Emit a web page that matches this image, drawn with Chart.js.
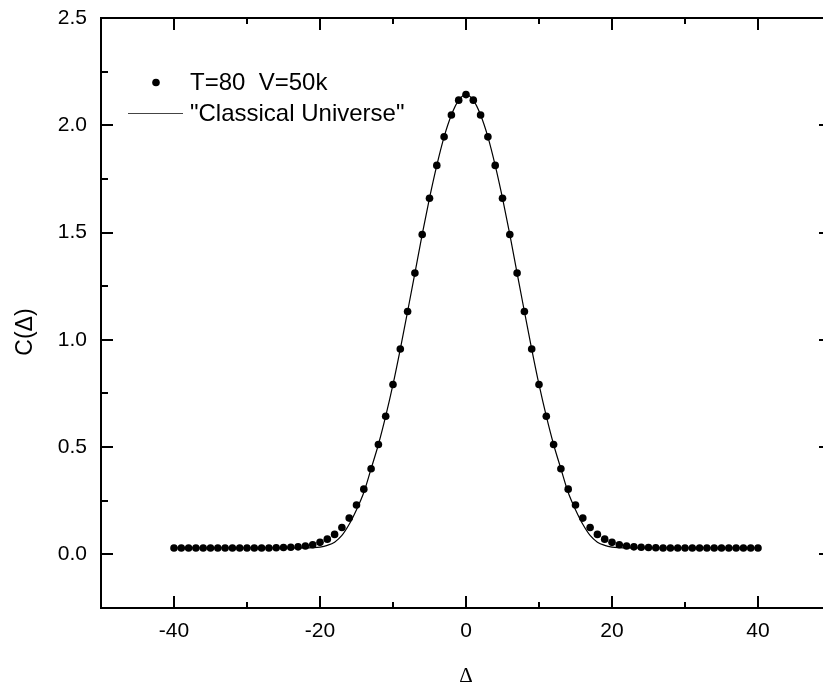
<!DOCTYPE html>
<html>
<head>
<meta charset="utf-8">
<script src="https://cdn.jsdelivr.net/npm/chart.js@4/dist/chart.umd.min.js"></script>
<style>
html,body{margin:0;padding:0;overflow:hidden;background:#fff;width:823px;height:685px;}
#wrap{position:absolute;left:0;top:0;width:845px;height:685px;}
</style>
</head>
<body>
<div id="wrap"><canvas id="c" width="845" height="685"></canvas></div>
<script>
// ---- data ----
const deltas = [-40,-39,-38,-37,-36,-35,-34,-33,-32,-31,-30,-29,-28,-27,-26,-25,-24,-23,-22,-21,
  -20,-19,-18,-17,-16,-15,-14,-13,-12,-11,-10,-9,-8,-7,-6,-5,-4,-3,-2,-1,0,
  1,2,3,4,5,6,7,8,9,10,11,12,13,14,15,16,17,18,19,20,
  21,22,23,24,25,26,27,28,29,30,31,32,33,34,35,36,37,38,39,40];
const measuredC = [0.030,0.030,0.030,0.030,0.030,0.030,0.030,0.030,0.030,0.030,0.030,0.030,0.030,0.030,0.031,0.032,0.033,0.035,0.039,0.045,
  0.056,0.071,0.093,0.125,0.169,0.230,0.304,0.399,0.512,0.644,0.792,0.957,1.132,1.311,1.491,1.660,1.813,1.946,2.048,2.117,2.143,
  2.117,2.048,1.946,1.813,1.660,1.491,1.311,1.132,0.957,0.792,0.644,0.512,0.399,0.304,0.230,0.169,0.125,0.093,0.071,0.056,
  0.045,0.039,0.035,0.033,0.032,0.031,0.030,0.030,0.030,0.030,0.030,0.030,0.030,0.030,0.030,0.030,0.030,0.030,0.030,0.030];
const classicalC = [0.030,0.030,0.030,0.030,0.030,0.030,0.030,0.030,0.030,0.030,0.030,0.030,0.030,0.030,0.030,0.030,0.030,0.030,0.030,0.031,
  0.034,0.042,0.057,0.088,0.140,0.208,0.288,0.399,0.512,0.644,0.792,0.957,1.132,1.311,1.491,1.660,1.813,1.946,2.048,2.117,2.143,
  2.117,2.048,1.946,1.813,1.660,1.491,1.311,1.132,0.957,0.792,0.644,0.512,0.399,0.288,0.208,0.140,0.088,0.057,0.042,0.034,
  0.031,0.030,0.030,0.030,0.030,0.030,0.030,0.030,0.030,0.030,0.030,0.030,0.030,0.030,0.030,0.030,0.030,0.030,0.030,0.030];
const seriesLabels = ['T=80  V=50k', '"Classical Universe"'];
const xTickValues = [-40,-20,0,20,40];
const xMinorValues = [-50,-30,-10,10,30,50];
const yTickValues = [0,0.5,1.0,1.5,2.0,2.5];
const yMinorValues = [-0.25,0.25,0.75,1.25,1.75,2.25];
const xTitle = 'Δ';
const yTitle = 'C(Δ)';

const SANS = '"Liberation Sans", Arial, sans-serif';

const framePlugin = {
  id: 'frame',
  afterDatasetsDraw(chart) {
    const ctx = chart.ctx;
    const {left, right, top, bottom} = chart.chartArea;
    const xs = chart.scales.x, ys = chart.scales.y;
    ctx.save();
    ctx.strokeStyle = '#000';
    ctx.lineWidth = 2;
    ctx.strokeRect(left, top, right - left, bottom - top);
    ctx.beginPath();
    const tickX = (vals, len) => vals.forEach(v => {
      const p = Math.round(xs.getPixelForValue(v));
      ctx.moveTo(p, bottom); ctx.lineTo(p, bottom - len);
      ctx.moveTo(p, top); ctx.lineTo(p, top + len);
    });
    const tickY = (vals, len) => vals.forEach(v => {
      const p = Math.round(ys.getPixelForValue(v));
      ctx.moveTo(left, p); ctx.lineTo(left + len, p);
      ctx.moveTo(right, p); ctx.lineTo(right - len, p);
    });
    tickX(xTickValues, 12); tickX(xMinorValues, 6);
    tickY(yTickValues, 12); tickY(yMinorValues, 7);
    ctx.stroke();

    // axis titles
    ctx.fillStyle = '#000';
    ctx.textAlign = 'center';
    ctx.textBaseline = 'middle';
    ctx.font = '21px "Liberation Serif", "Times New Roman", serif';
    ctx.fillText(xTitle, (left + right) / 2, 676);
    ctx.save();
    ctx.translate(26, 332);
    ctx.rotate(-Math.PI / 2);
    ctx.font = '23px ' + SANS;
    ctx.fillText(yTitle, 0, 0);
    ctx.restore();

    // legend
    const ds = chart.data.datasets;
    ctx.font = '24px ' + SANS;
    ctx.textAlign = 'left';
    ctx.textBaseline = 'middle';
    ctx.beginPath();
    ctx.arc(156, 82.5, 3.8, 0, Math.PI * 2);
    ctx.fillStyle = '#000';
    ctx.fill();
    ctx.fillText(ds[0].label, 190, 83);
    ctx.beginPath();
    ctx.strokeStyle = '#444';
    ctx.lineWidth = 1;
    ctx.moveTo(128, 113.5); ctx.lineTo(183, 113.5);
    ctx.stroke();
    ctx.fillText(ds[1].label, 190, 114);
    ctx.restore();
  }
};

new Chart(document.getElementById('c'), {
  type: 'scatter',
  data: {
    datasets: [
      {
        label: seriesLabels[0],
        data: deltas.map((d, i) => ({x: d, y: measuredC[i]})),
        showLine: false,
        pointRadius: 3.8,
        pointHoverRadius: 3.8,
        pointBackgroundColor: '#000',
        pointBorderWidth: 0,
        order: 1
      },
      {
        label: seriesLabels[1],
        data: deltas.map((d, i) => ({x: d, y: classicalC[i]})),
        showLine: true,
        pointRadius: 0,
        borderColor: '#000',
        borderWidth: 1.2,
        cubicInterpolationMode: 'monotone',
        order: 2
      }
    ]
  },
  options: {
    responsive: false,
    animation: false,
    devicePixelRatio: 1,
    layout: {padding: {left: 0, top: 18, right: 14, bottom: 0}},
    plugins: {legend: {display: false}, tooltip: {enabled: false}},
    scales: {
      x: {
        type: 'linear', min: -50, max: 50,
        afterBuildTicks: s => { s.ticks = xTickValues.map(v => ({value: v})); },
        afterFit: s => { s.height = 77; s.paddingLeft = 0; s.paddingRight = 0; s.paddingTop = 0; s.paddingBottom = 0; },
        grid: {display: false, drawTicks: false},
        border: {display: false},
        ticks: {autoSkip: false, maxRotation: 0, padding: 11, color: '#000',
          font: {family: SANS, size: 21}, callback: v => String(v)}
      },
      y: {
        type: 'linear', min: -0.25, max: 2.5,
        afterBuildTicks: s => { s.ticks = yTickValues.map(v => ({value: v})); },
        afterFit: s => { s.width = 101; s.paddingTop = 0; s.paddingBottom = 0; s.paddingLeft = 0; s.paddingRight = 0; },
        grid: {display: false, drawTicks: false},
        border: {display: false},
        ticks: {autoSkip: false, padding: 14, color: '#000',
          font: {family: SANS, size: 21}, callback: v => v.toFixed(1)}
      }
    }
  },
  plugins: [framePlugin]
});
</script>
</body>
</html>
